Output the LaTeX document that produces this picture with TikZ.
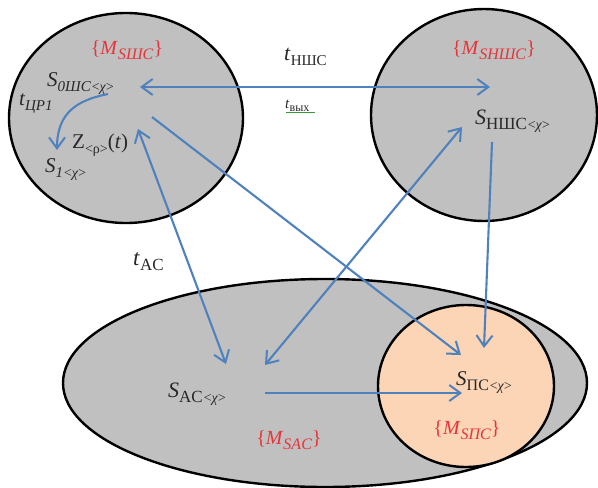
\documentclass[tikz,border=0pt]{standalone}
\usepackage{fontspec}
\setmainfont{Liberation Serif}
\usetikzlibrary{arrows.meta}

\definecolor{fillgray}{RGB}{192,192,192}
\definecolor{peach}{RGB}{251,213,182}
\definecolor{linkblue}{RGB}{79,129,189}
\definecolor{setred}{RGB}{230,52,58}
\definecolor{ink}{RGB}{40,40,40}
\definecolor{markgreen}{RGB}{60,150,60}

% subscript helpers
\newcommand\lowsub[2]{\raisebox{-0.25em}{\fontsize{#1}{#1}\selectfont #2}}
\newcommand\chiidx[1]{\lowsub{#1}{\itshape <\kern-0.05em χ\kern-0.05em >}}

\tikzset{
  region/.style={draw=black, line width=2.4pt, fill=fillgray},
  tipshape/.tip={Straight Barb[length=11pt, width=16pt, line width=2pt]},
  link/.style={draw=linkblue, line width=2.1pt, -tipshape},
  twoway/.style={draw=linkblue, line width=2.1pt, tipshape-tipshape},
  state/.style={text=ink, inner sep=0pt, font=\fontsize{21}{21}\selectfont},
  setlabel/.style={text=setred, inner sep=0pt, font=\fontsize{20}{20}\selectfont},
}

\begin{document}
\begin{tikzpicture}[x=1pt, y=-1pt]
  \useasboundingbox (0,0) rectangle (598,488);

  % regions
  \fill[region] (126,118) ellipse [x radius=117pt, y radius=105pt];
  \fill[region] (484,115) ellipse [x radius=113pt, y radius=106pt];
  \fill[region] (325,383) ellipse [x radius=262pt, y radius=104pt];
  \fill[region, fill=peach] (466,386) ellipse [x radius=88pt, y radius=81pt];

  % set labels
  \node[setlabel] (msh) at (127,50) {\{\textit{M}\lowsub{16}{\textit{SШС}}\}};
  \node[setlabel] (mnsh) at (494,50) {\{\textit{M}\lowsub{16}{\textit{SНШС}}\}};
  \node[setlabel] (mac) at (289,440) {\{\textit{M}\lowsub{16}{\textit{SAC}}\}};
  \node[setlabel] (mpc) at (467,430) {\{\textit{M}\lowsub{16}{\textit{SПС}}\}};

  % states
  \node[state, anchor=base west] (s0) at (47,86)
    {\itshape S\lowsub{15}{0ШС}\chiidx{14}};
  \node[state, anchor=base west] (s1) at (45,172)
    {\itshape S\lowsub{15}{1}\chiidx{14}};
  \node[state, anchor=base west] (z) at (72,148)
    {Z\lowsub{14}{<ρ>}(\textit{t})};
  \node[state, anchor=base west, font=\fontsize{22}{22}\selectfont] (snsh) at (475,124)
    {\textit{S}\lowsub{17}{НШС}\chiidx{14}};
  \node[state, anchor=base west, font=\fontsize{22}{22}\selectfont] (sac) at (168,397)
    {\textit{S}\lowsub{17}{AC}\chiidx{14}};
  \node[state, anchor=base west, font=\fontsize{21}{21}\selectfont] (spc) at (456,385)
    {\textit{S}\lowsub{16}{ПС}\chiidx{14}};

  % transition labels
  \node[state, anchor=base west] (tcr) at (19,105)
    {\itshape t\lowsub{15}{ЦР1}};
  \node[state, anchor=base west, font=\fontsize{22}{22}\selectfont] (tnsh) at (284,60)
    {\textit{t}\lowsub{15}{НШС}};
  \node[state, anchor=base west, font=\fontsize{15}{15}\selectfont] (tout) at (285,108)
    {\textit{t}\lowsub{12}{вых}};
  \draw[markgreen, line width=0.8pt] (286,112) -- (315,112);
  \node[state, anchor=base west, font=\fontsize{23}{23}\selectfont] (tac) at (133,265)
    {\textit{t}\lowsub{17}{AC}};

  % connector end points
  \coordinate (s0e) at (140,87);
  \coordinate (snshw) at (490,87);
  \coordinate (s0out) at (108,94);
  \coordinate (s1in) at (57,150);
  \coordinate (zin) at (138,129);
  \coordinate (zout) at (152,117);
  \coordinate (sacn) at (226,364);
  \coordinate (sacne) at (265,365);
  \coordinate (sace) at (265,393);
  \coordinate (snshsw) at (462,127);
  \coordinate (snshs) at (492,142);
  \coordinate (spcnw) at (461,355);
  \coordinate (spcn) at (484,348);
  \coordinate (spcw) at (462,393);

  % connectors
  \draw[twoway] (s0e) -- (snshw);
  \draw[link] (s0out) .. controls (78,100) and (57,112) .. (s1in);
  \draw[twoway] (zin) -- (sacn);
  \draw[link] (zout) -- (spcnw);
  \draw[twoway] (snshsw) -- (sacne);
  \draw[link] (snshs) -- (spcn);
  \draw[link] (sace) -- (spcw);
\end{tikzpicture}
\end{document}
